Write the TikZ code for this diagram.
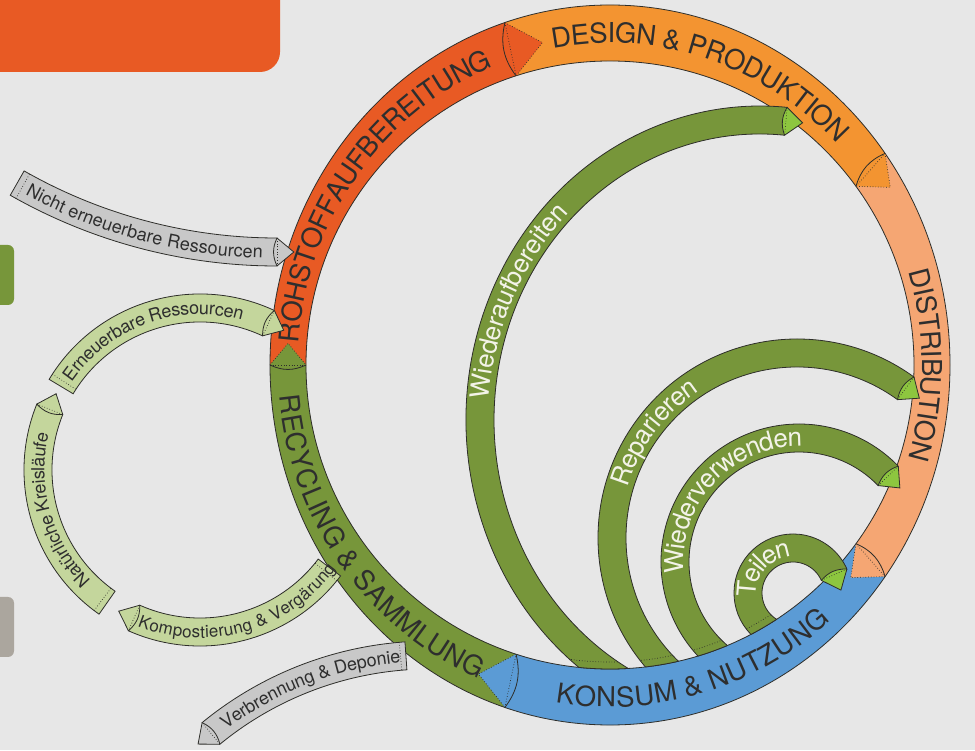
\documentclass[tikz,border=0pt]{standalone}
\usepackage{fontspec}
\setmainfont{TeX Gyre Heros}
\usetikzlibrary{calc,decorations.text}

\definecolor{bgcol}{HTML}{E7E7E7}
\definecolor{rohstoff}{HTML}{E85A24}
\definecolor{design}{HTML}{F39431}
\definecolor{distrib}{HTML}{F5A673}
\definecolor{konsum}{HTML}{5B9BD5}
\definecolor{recycl}{HTML}{77963A}
\definecolor{tipgreen}{HTML}{8DC63F}
\definecolor{lightgreen}{HTML}{C4D69C}
\definecolor{greyband}{HTML}{C8C8C8}
\definecolor{greytab}{HTML}{ABA69E}
\definecolor{linecol}{HTML}{2E2E2A}
\definecolor{textdark}{HTML}{2E2E2E}
\definecolor{textlight}{HTML}{F3F3E8}

% band between two ellipses: centre, outer rx, outer ry, inner rx, inner ry, start, end, style
\newcommand{\arcband}[8]{%
  \path[#8] ([shift={(#1)}]#6:#2 and #3) arc[start angle=#6, end angle=#7, x radius=#2, y radius=#3]
    -- ([shift={(#1)}]#7:#4 and #5) arc[start angle=#7, end angle=#6, x radius=#4, y radius=#5] -- cycle;}

% pencil tip at the end of a band: centre, radii, angle, fill, side style, direction (1 cw, -1 ccw)
\newcommand{\arctip}[9]{%
  \coordinate (tipo) at ([shift={(#1)}]#6:#2 and #3);
  \coordinate (tipi) at ([shift={(#1)}]#6:#4 and #5);
  \coordinate (tipm) at ($(tipo)!0.5!(tipi)$);
  \pgfmathsetmacro{\tiprot}{90*#9}%
  \pgfmathsetmacro{\tipbend}{25*#9}%
  \coordinate (tipa) at ($(tipm)!1.2!\tiprot:(tipi)$);
  \fill[#7] (tipo) to[bend right=\tipbend] (tipi) -- (tipa) -- cycle;
  \draw[#8] (tipo) -- (tipa) -- (tipi);
  \draw[dotted line] (tipo) -- (tipi);
  \draw[bandline] (tipo) to[bend right=\tipbend] (tipi);}

\tikzset{
  bandline/.style={draw=linecol, line width=0.8pt},
  dotted line/.style={draw=linecol, line width=0.7pt, dotted},
  ringtext/.style={decorate, decoration={text along path, text align=center, raise=-10pt,
    text={|\fontsize{27.5}{27.5}\selectfont\color{textdark}|#1}}},
  innertext/.style={decorate, decoration={text along path, text align=center, raise=-8.5pt,
    text={|\fontsize{26}{26}\selectfont\color{textlight}|#1}}},
  sidetext/.style={decorate, decoration={text along path, text align=center, raise=-6.5pt,
    text={|\fontsize{18}{18}\selectfont\color{textdark}|#1}}},
  smalltext/.style={decorate, decoration={text along path, text align=center, raise=-6pt,
    text={|\fontsize{17}{17}\selectfont\color{textdark}|#1}}}
}

\begin{document}
\begin{tikzpicture}[x=1pt, y=1pt]
  \useasboundingbox (0,0) rectangle (975,750);
  \clip (0,0) rectangle (975,750);
  \fill[bgcol] (0,0) rectangle (975,750);

  % header and side tabs
  \fill[rohstoff] (0,750) -- (280,750) -- (280,698) arc[start angle=0, end angle=-90, radius=20] -- (0,678) -- cycle;
  \fill[recycl, rounded corners=6pt] (-10,445) rectangle (14,505);
  \fill[greytab, rounded corners=6pt] (-10,93) rectangle (14,153);

  % main cycle
  \arcband{610,385}{340}{360}{304}{304}{180}{108}{fill=rohstoff}
  \arcband{610,385}{340}{360}{304}{304}{108}{36}{fill=design}
  \arcband{610,385}{340}{360}{304}{304}{36}{-36}{fill=distrib}
  \arcband{610,385}{340}{360}{304}{304}{-36}{-108}{fill=konsum}
  \arcband{610,385}{340}{360}{304}{304}{-108}{-180}{fill=recycl}
  \draw[bandline] (610,385) ellipse[x radius=340, y radius=360];
  \draw[bandline] (610,385) circle[radius=304];
  \arctip{610,385}{340}{360}{304}{304}{180}{recycl}{dotted line}{1}
  \arctip{610,385}{340}{360}{304}{304}{108}{rohstoff}{dotted line}{1}
  \arctip{610,385}{340}{360}{304}{304}{36}{design}{dotted line}{1}
  \arctip{610,385}{340}{360}{304}{304}{-36}{distrib}{dotted line}{1}
  \arctip{610,385}{340}{360}{304}{304}{-108}{konsum}{dotted line}{1}

  \path[ringtext={ROHSTOFFAUFBEREITUNG}, shift={(610,385)}]
    (179:322 and 332) arc[start angle=179, end angle=109, x radius=322, y radius=332];
  \path[ringtext={DESIGN {\&} PRODUKTION}, shift={(610,385)}]
    (106:322 and 332) arc[start angle=106, end angle=38, x radius=322, y radius=332];
  \path[ringtext={DISTRIBUTION}, shift={(610,385)}]
    (34:322 and 332) arc[start angle=34, end angle=-34, x radius=322, y radius=332];
  \path[ringtext={KONSUM {\&} NUTZUNG}, shift={(610,385)}]
    (-108:322 and 332) arc[start angle=-108, end angle=-40, x radius=322, y radius=332];
  \path[ringtext={RECYCLING {\&} SAMMLUNG}, shift={(610,385)}]
    (181:322 and 332) arc[start angle=181, end angle=251, x radius=322, y radius=332];

  % loops back from use
  \begin{scope}[even odd rule]
    \clip (0,0) rectangle (975,750)
      (540.1,89.1) arc[start angle=256.7, end angle=308.7, radius=304] -- (800,0) -- (540,0) -- cycle;
    \arcband{760,330}{294}{314}{266}{286}{245}{84.7}{fill=recycl, bandline}
    \arcband{797,212}{199}{199}{171}{171}{232}{54}{fill=recycl, bandline}
    \arcband{799,188}{138}{138}{110}{110}{236}{44}{fill=recycl, bandline}
    \arcband{793,157}{59}{59}{31}{31}{252}{24}{fill=recycl, bandline}
  \end{scope}
  \begin{scope}
    \clip (540,0) rectangle (800,160);
    \arcband{760,330}{294}{314}{266}{286}{245}{84.7}{clip}
    \draw[bandline] (610,385) circle[radius=304];
    \draw[dotted line] (610,385) circle[radius=297];
  \end{scope}
  \begin{scope}
    \clip (540,0) rectangle (800,160);
    \arcband{797,212}{199}{199}{171}{171}{232}{54}{clip}
    \draw[bandline] (610,385) circle[radius=304];
    \draw[dotted line] (610,385) circle[radius=297];
  \end{scope}
  \begin{scope}
    \clip (540,0) rectangle (800,160);
    \arcband{799,188}{138}{138}{110}{110}{236}{44}{clip}
    \draw[bandline] (610,385) circle[radius=304];
    \draw[dotted line] (610,385) circle[radius=297];
  \end{scope}
  \begin{scope}
    \clip (540,0) rectangle (800,160);
    \arcband{793,157}{59}{59}{31}{31}{252}{24}{clip}
    \draw[bandline] (610,385) circle[radius=304];
    \draw[dotted line] (610,385) circle[radius=297];
  \end{scope}
  \arctip{760,330}{294}{314}{266}{286}{84.7}{tipgreen}{bandline}{1}
  \arctip{797,212}{199}{199}{171}{171}{54}{tipgreen}{bandline}{1}
  \arctip{799,188}{138}{138}{110}{110}{44}{tipgreen}{bandline}{1}
  \arctip{793,157}{59}{59}{31}{31}{24}{tipgreen}{bandline}{1}

  \path[innertext={Wiederaufbereiten}, shift={(760,330)}]
    (190:280 and 300) arc[start angle=190, end angle=120, x radius=280, y radius=300];
  \path[innertext={Reparieren}, shift={(797,212)}]
    (175:185) arc[start angle=175, end angle=112, radius=185];
  \path[innertext={Wiederverwenden}, shift={(799,188)}]
    (195:124) arc[start angle=195, end angle=79, radius=124];
  \path[innertext={Teilen}, shift={(793,157)}]
    (200:45) arc[start angle=200, end angle=80, radius=45];

  % inputs and outputs
  \arcband{277,1022.4}{538.4}{538.4}{510.4}{510.4}{240.3}{270}{fill=greyband, bandline}
  \draw[dotted line, shift={(277,1022.4)}] (241:538.4) -- (241:510.4);
  \arctip{277,1022.4}{538.4}{538.4}{510.4}{510.4}{270}{greyband}{bandline}{-1}
  \path[sidetext={Nicht erneuerbare Ressourcen}, shift={(277,1022.4)}]
    (240.6:524.4) arc[start angle=240.6, end angle=269.5, radius=524.4];

  \arcband{430,-250}{359}{359}{331}{331}{94}{129.4}{fill=greyband, bandline}
  \draw[dotted line, shift={(430,-250)}] (94.9:359) -- (94.9:331);
  \arctip{430,-250}{359}{359}{331}{331}{129.4}{greyband}{bandline}{-1}
  \path[sidetext={Verbrennung {\&} Deponie}, shift={(430,-250)}]
    (129:345) arc[start angle=129, end angle=93, radius=345];

  % natural cycle
  \arcband{200,280}{176}{176}{148}{148}{149}{65}{fill=lightgreen, bandline}
  \draw[dotted line, shift={(200,280)}] (147:176) -- (147:148);
  \arctip{200,280}{176}{176}{148}{148}{65}{lightgreen}{bandline}{1}
  \arcband{200,280}{176}{176}{148}{148}{235}{158}{fill=lightgreen, bandline}
  \draw[dotted line, shift={(200,280)}] (233:176) -- (233:148);
  \arctip{200,280}{176}{176}{148}{148}{158}{lightgreen}{bandline}{1}
  \arcband{200,280}{176}{176}{148}{148}{-37}{-114}{fill=lightgreen, bandline}
  \draw[dotted line, shift={(200,280)}] (-39:176) -- (-39:148);
  \arctip{200,280}{176}{176}{148}{148}{-114}{lightgreen}{bandline}{1}

  \path[sidetext={Erneuerbare Ressourcen}, shift={(200,280)}]
    (150:162) arc[start angle=150, end angle=70, radius=162];
  \path[sidetext={Natürliche Kreisläufe}, shift={(200,280)}]
    (236:162) arc[start angle=236, end angle=156, radius=162];
  \path[smalltext={Kompostierung {\&} Vergärung}, shift={(200,280)}]
    (-119:162) arc[start angle=-119, end angle=-29, radius=162];
\end{tikzpicture}
\end{document}
